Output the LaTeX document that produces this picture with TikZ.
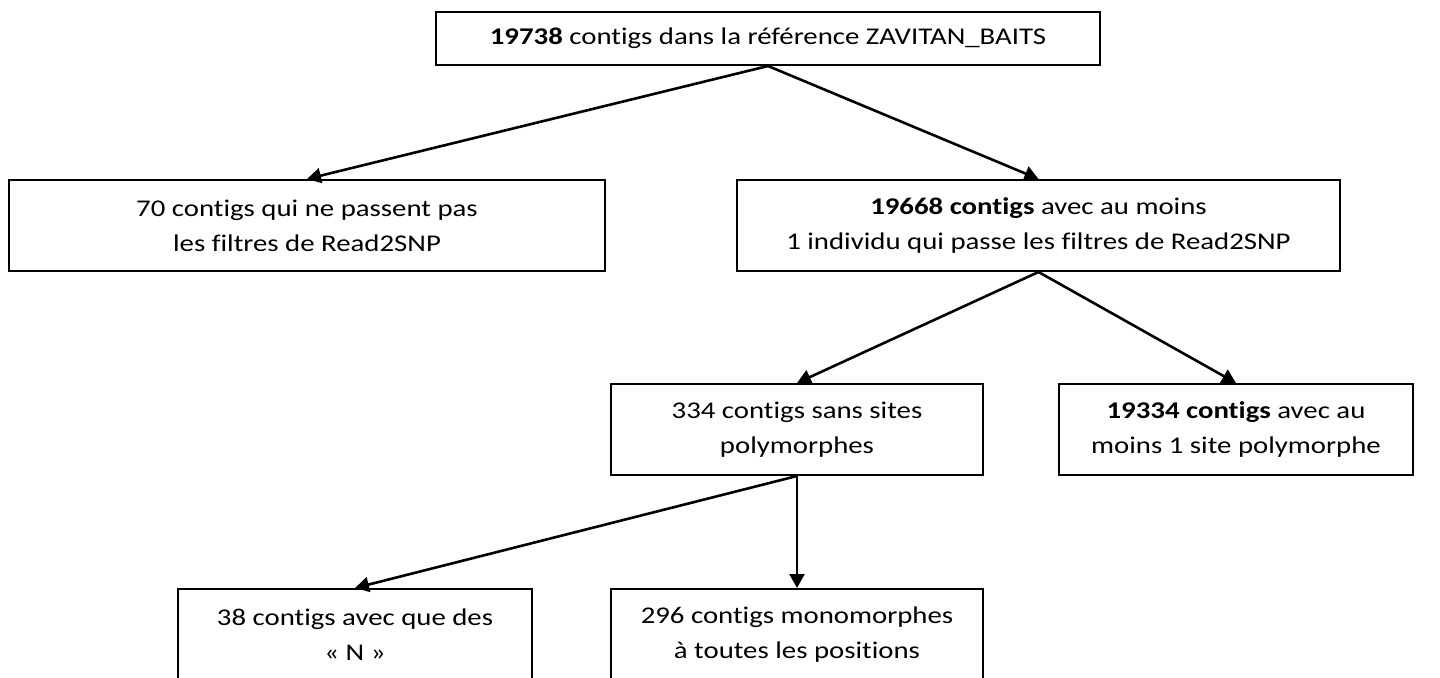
\documentclass[tikz,border=0pt]{standalone}
\usepackage{fontspec}
\setmainfont{Carlito}[FakeStretch=1.2, Ligatures=NoCommon]
\usetikzlibrary{arrows.meta}
\tikzset{
    box/.style={draw, line width=1pt, align=center, inner sep=0pt, minimum height=45.5pt}, % cadre des effectifs
    link/.style={-{Triangle[length=7pt, width=7.5pt]}, line width=1.3pt} % fleche entre deux cadres
}

\begin{document}
\begin{tikzpicture}[x=0.5pt, y=-0.5pt, font=\fontsize{12}{17.5}\selectfont]
    \useasboundingbox (0,0) rectangle (1440,678);
    \clip (0,0) rectangle (1440,678);

    \node[box, minimum width=332pt, minimum height=26.5pt] (total) at (768,38.5)
        {\textbf{19738} contigs dans la référence ZAVITAN\_BAITS};

    \node[box, minimum width=298pt] (filtered) at (307,225.5)
        {70 contigs qui ne passent pas\\les filtres de Read2SNP};
    \node[box, minimum width=301.5pt] (passed) at (1038.5,225.5)
        {\textbf{19668 contigs} avec au moins\\1 individu qui passe les filtres de Read2SNP};

    \node[box, minimum width=186pt] (nosite) at (797,429.5)
        {334 contigs sans sites\\polymorphes};
    \node[box, minimum width=177pt] (poly) at (1236,429.5)
        {\textbf{19334 contigs} avec au\\moins 1 site polymorphe};

    \node[box, minimum width=177pt] (onlyN) at (355,634.5)
        {38 contigs avec que des\\« N »};
    \node[box, minimum width=186pt] (mono) at (797,634.5)
        {296 contigs monomorphes\\à toutes les positions};

    \foreach \from / \to in {total/filtered, total/passed, passed/nosite,
                             passed/poly, nosite/onlyN, nosite/mono} {
        \draw[link] (\from.south) -- (\to.north);
    }

\end{tikzpicture}
\end{document}
